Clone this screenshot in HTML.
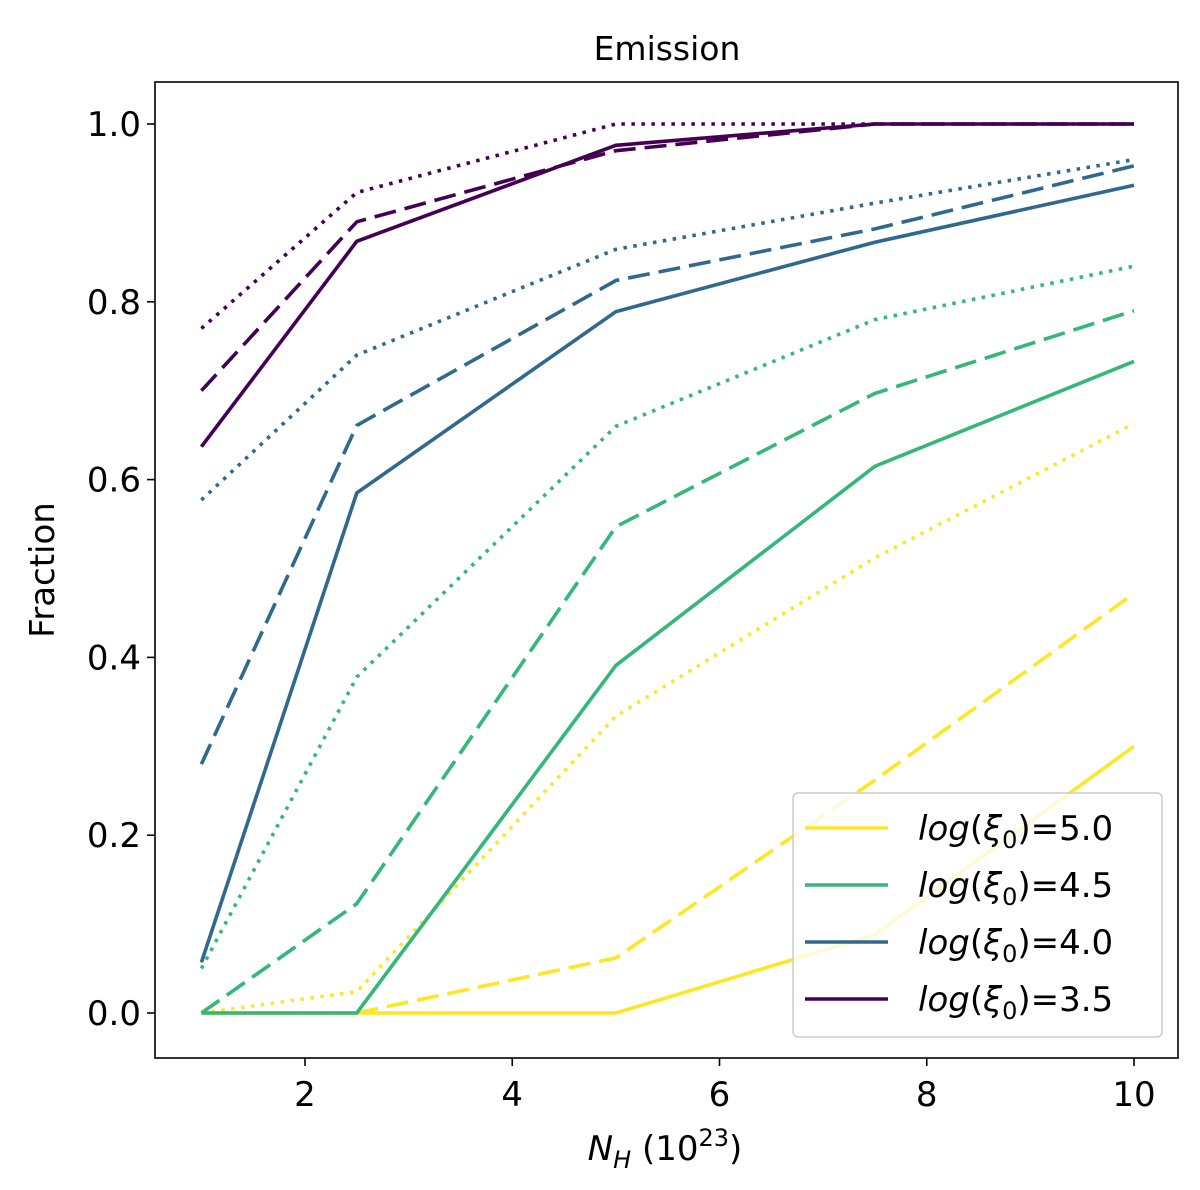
<!DOCTYPE html>
<html><head><meta charset="utf-8"><style>
body{margin:0;background:#fff;}
svg{display:block;font-family:"DejaVu Sans","Liberation Sans",sans-serif;}
</style></head><body>
<svg id="chart" width="1200" height="1190" viewBox="0 0 1200 1190">
<rect x="0" y="0" width="1200" height="1190" fill="#fff"/>
<g id="plot"></g>
</svg>
<script>
const xValues=[1,2.5,5,7.5,10];
const seriesNames=["log(ξ0)=5.0","log(ξ0)=4.5","log(ξ0)=4.0","log(ξ0)=3.5"];
const colors=["#fde725","#35b779","#31688e","#440154"];
const y50solid=[0,0,0,0.088,0.30];
const y50dashed=[0,0,0.062,0.262,0.472];
const y50dotted=[0,0.024,0.334,0.512,0.663];
const y45solid=[0,0,0.391,0.615,0.733];
const y45dashed=[0,0.123,0.547,0.697,0.79];
const y45dotted=[0.05,0.378,0.66,0.78,0.84];
const y40solid=[0.057,0.585,0.789,0.867,0.931];
const y40dashed=[0.28,0.661,0.824,0.882,0.953];
const y40dotted=[0.577,0.74,0.859,0.911,0.96];
const y35solid=[0.637,0.868,0.976,1,1];
const y35dashed=[0.70,0.89,0.97,1,1];
const y35dotted=[0.77,0.923,1,1,1];
const xTicks=[2,4,6,8,10];
const yTicks=[0,0.2,0.4,0.6,0.8,1.0];

const NS="http://www.w3.org/2000/svg";
const g=document.getElementById('plot');
const L=155,R=1178,T=82,B=1058;
const sx=v=>305+(v-2)*(1134-305)/8;
const sy=v=>1013-v*889;
function mk(tag,attrs,parent){const e=document.createElementNS(NS,tag);for(const k in attrs)e.setAttribute(k,attrs[k]);(parent||g).appendChild(e);return e;}

const groups=[
 [y50solid,y50dashed,y50dotted],
 [y45solid,y45dashed,y45dotted],
 [y40solid,y40dashed,y40dotted],
 [y35solid,y35dashed,y35dotted]];
const styles=["none","22,9","3.5,6.5"];
const styleNames=["solid","dashed","dotted"];
groups.forEach((grp,gi)=>{
 grp.forEach((vals,si)=>{
  const d=vals.map((v,i)=>(i?'L':'M')+sx(xValues[i]).toFixed(1)+','+sy(v).toFixed(1)).join(' ');
  const p=mk('path',{d:d,fill:'none',stroke:colors[gi],'stroke-width':3.6,'stroke-dasharray':styles[si]});
  
  
 });
});
const frame=mk('rect',{x:L,y:T,width:R-L,height:B-T,fill:'none',stroke:'#000','stroke-width':1.6});


xTicks.forEach(t=>{
 mk('line',{x1:sx(t),x2:sx(t),y1:B,y2:B+8,stroke:'#000','stroke-width':1.6});
 const tx=mk('text',{x:sx(t),y:B+48,'text-anchor':'middle','font-size':34});
 tx.textContent=t;
 
 
});
yTicks.forEach(t=>{
 mk('line',{x1:L-8,x2:L,y1:sy(t),y2:sy(t),stroke:'#000','stroke-width':1.6});
 const tx=mk('text',{x:L-14,y:sy(t)+12,'text-anchor':'end','font-size':34});
 tx.textContent=t.toFixed(1);
 
 
});
const title=mk('text',{x:667,y:60,'text-anchor':'middle','font-size':33});
title.textContent='Emission';


const yl=mk('text',{x:0,y:0,'text-anchor':'middle','font-size':34,transform:'translate(54,570) rotate(-90)'});
yl.textContent='Fraction';


const xl=mk('text',{x:665,y:1160,'text-anchor':'middle','font-size':34});
xl.innerHTML='<tspan font-style="italic">N</tspan><tspan font-style="italic" font-size="24" dy="8">H</tspan><tspan dy="-8"> (10</tspan><tspan font-size="24" dy="-14">23</tspan><tspan dy="14">)</tspan>';


const lg=mk('rect',{x:793,y:793,width:369,height:244,rx:5,fill:'#fff','fill-opacity':0.8,stroke:'#ccc','stroke-width':1.5});


seriesNames.forEach((n,i)=>{
 const y=828+i*57;
 const ln=mk('line',{x1:805,x2:888,y1:y,y2:y,stroke:colors[i],'stroke-width':3.6});
 
 
 const tx=mk('text',{x:918,y:y+12,'font-size':34});
 tx.innerHTML='<tspan font-style="italic">log</tspan>(<tspan font-style="italic">ξ</tspan><tspan font-size="24" dy="8">0</tspan><tspan dy="-8">)='+['5.0','4.5','4.0','3.5'][i]+'</tspan>';
 
 
});
</script>
</body></html>
